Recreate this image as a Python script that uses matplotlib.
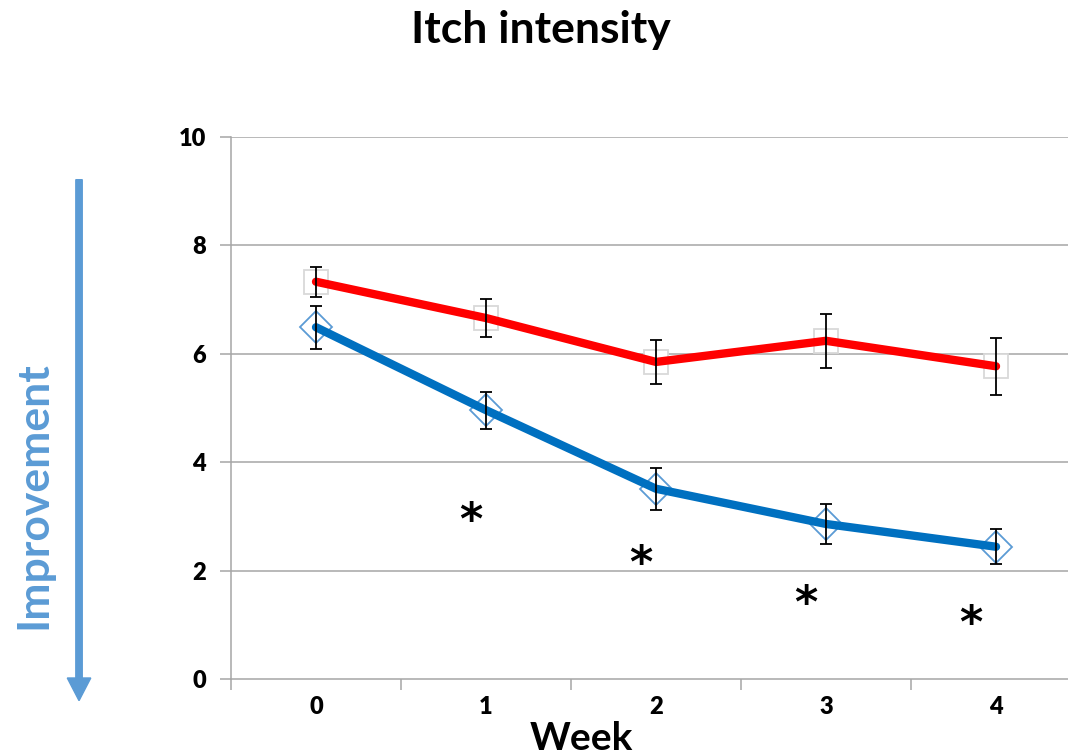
import numpy as np
import matplotlib.pyplot as plt

plt.rcParams['font.family'] = ['Lato', 'DejaVu Sans']

# data
weeks = [0, 1, 2, 3, 4]
red_vals = [7.33, 6.66, 5.85, 6.24, 5.77]
red_err = [0.28, 0.35, 0.40, 0.50, 0.53]
blue_vals = [6.49, 4.96, 3.51, 2.86, 2.44]
blue_err = [0.40, 0.34, 0.39, 0.37, 0.32]
star_x = [0.91, 1.91, 2.88, 3.85]
star_y = [2.90, 2.12, 1.38, 1.01]

fig = plt.figure(figsize=(10.68, 7.55), dpi=100)
ax = fig.add_axes([0.2163, 0.1007, 0.7959, 0.7178])

# grid
for g in [2, 4, 6, 8, 10]:
    ax.axhline(g, color='#A6A6A6', lw=1.1, zorder=1)

# markers behind lines
ax.plot(weeks, red_vals, ls='none', marker='s', ms=17.5, mfc='white', mec='#D9D9D9', mew=1.3, zorder=2)
ax.plot(weeks, blue_vals, ls='none', marker='D', ms=16, mfc='none', mec='#5B9BD5', mew=1.3, zorder=2)

ax.plot(weeks, red_vals, color='#FF0000', lw=6, solid_capstyle='round', solid_joinstyle='round', zorder=3)
ax.plot(weeks, blue_vals, color='#0070C0', lw=6, solid_capstyle='round', solid_joinstyle='round', zorder=3)

ax.errorbar(weeks, red_vals, yerr=red_err, fmt='none', ecolor='black', elinewidth=1.3, capsize=4.5, capthick=1.3, zorder=4)
ax.errorbar(weeks, blue_vals, yerr=blue_err, fmt='none', ecolor='black', elinewidth=1.3, capsize=4.5, capthick=1.3, zorder=4)

for sx, sy in zip(star_x, star_y):
    ax.text(sx, sy, '*', fontsize=32, fontweight='bold', ha='center', va='center',
            family='DejaVu Sans')

ax.set_xlim(-0.5, 4.5)
ax.set_ylim(0, 10)
ax.set_yticks([0, 2, 4, 6, 8, 10])
ax.set_xticks([-0.5, 0.5, 1.5, 2.5, 3.5])
ax.set_xticklabels([])
ax.set_xticks(weeks, minor=True)
ax.set_xticklabels([str(w) for w in weeks], minor=True)
ax.tick_params(axis='x', which='minor', length=0, pad=12, labelsize=17)
ax.tick_params(axis='x', which='major', length=8, color='#A6A6A6', width=1.1)
ax.tick_params(axis='y', length=8, color='#A6A6A6', width=1.1, labelsize=17, pad=10)
for lab in ax.get_xticklabels(minor=True) + ax.get_yticklabels():
    lab.set_fontweight('heavy')

for s in ['top', 'right']:
    ax.spines[s].set_visible(False)
ax.spines['left'].set_color('#A6A6A6')
ax.spines['bottom'].set_color('#A6A6A6')
ax.spines['left'].set_linewidth(1.1)
ax.spines['bottom'].set_linewidth(1.1)

fig.text(0.506, 0.96, 'Itch intensity', ha='center', va='center', fontsize=32, fontweight='bold')
fig.text(0.544, 0.022, 'Week', ha='center', va='center', fontsize=28, fontweight='bold')

fig.text(0.031, 0.344, 'Improvement', rotation=90, ha='center', va='center',
         fontsize=32, fontweight='bold', color='#5B9BD5')
fig.patches.append(plt.matplotlib.patches.FancyArrow(
    0.074, 0.762, 0, -0.69, width=0.006, head_width=0.022, head_length=0.03,
    length_includes_head=True, color='#5B9BD5', transform=fig.transFigure, figure=fig))

fig.savefig('out.png', dpi=100)
